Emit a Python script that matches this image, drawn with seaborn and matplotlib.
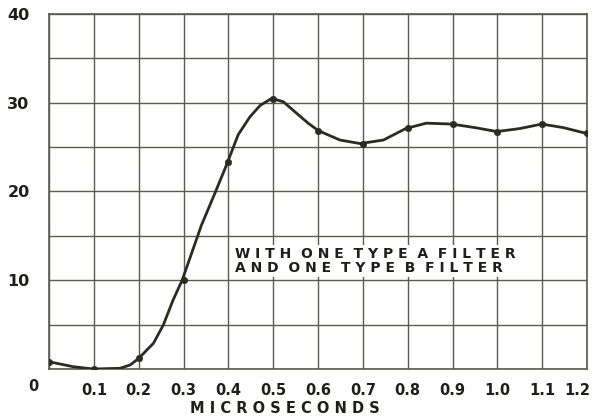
import matplotlib
matplotlib.use("Agg")
import matplotlib.pyplot as plt
import matplotlib.transforms as mtrans
import seaborn as sns
import pandas as pd

# curve trace (microseconds, response)
time_us = [0.0, 0.054, 0.099, 0.158, 0.181, 0.2, 0.233, 0.255, 0.277, 0.297, 0.34, 0.37,
           0.396, 0.422, 0.448, 0.471, 0.497, 0.523, 0.548, 0.578, 0.601, 0.649, 0.694,
           0.746, 0.796, 0.842, 0.898, 0.95, 0.999, 1.051, 1.099, 1.147, 1.198]
response = [0.82, 0.26, 0.0, 0.08, 0.45, 1.2, 2.9, 4.96, 7.8, 10.0, 16.2, 19.8,
            23.0, 26.4, 28.4, 29.7, 30.5, 30.1, 29.0, 27.7, 26.85, 25.8, 25.4,
            25.8, 27.1, 27.7, 27.6, 27.2, 26.75, 27.1, 27.6, 27.2, 26.55]
# plotted dots
dot_t = [0.0, 0.1, 0.2, 0.3, 0.4, 0.5, 0.6, 0.7, 0.8, 0.9, 1.0, 1.1, 1.2]
dot_v = [0.82, 0.0, 1.2, 10.0, 23.3, 30.4, 26.85, 25.4, 27.1, 27.6, 26.75, 27.6, 26.55]

x_labels = ["0.1", "0.2", "0.3", "0.4", "0.5", "0.6", "0.7", "0.8", "0.9", "1.0", "1.1", "1.2"]
y_labels = ["10", "20", "30", "40"]
annotation = ["WITH ONE TYPE A FILTER", "AND ONE TYPE B FILTER"]
x_title = "MICROSECONDS"


def spaced(s):
    return "  ".join(" ".join(w) for w in s.split(" "))


sns.set_style("white")
plt.rcParams['font.family'] = ['DejaVu Sans']

ink = "#2b2b24"
gridc = "#5a5a50"
txtc = "#1e1e1a"

fig = plt.figure(figsize=(5.94, 4.19), dpi=100)
ax = fig.add_axes([49/594, 1-369/419, (587-49)/594, (369-14)/419])

df = pd.DataFrame({"t": time_us, "v": response})
dots = pd.DataFrame({"t": dot_t, "v": dot_v})
sns.lineplot(data=df, x="t", y="v", ax=ax, color=ink, linewidth=2.0, zorder=3,
             solid_joinstyle="round", solid_capstyle="round")
sns.scatterplot(data=dots, x="t", y="v", ax=ax, color=ink, s=22, edgecolor=ink, zorder=4)

ax.set_xlim(0, 1.2)
ax.set_ylim(0, 40)
ax.set_xticks([i/10 for i in range(0, 13)])
ax.set_yticks([i*5 for i in range(0, 9)])
ax.grid(True, color=gridc, linewidth=1.0)
ax.set_xticklabels([""] + x_labels)
ylab_full = ["", ""] + [y_labels[0], ""] + [y_labels[1], ""] + [y_labels[2], ""] + [y_labels[3]]
ax.set_yticklabels(ylab_full)
ax.tick_params(axis="both", length=0, labelsize=10.5, colors=txtc)
ax.tick_params(axis="x", pad=10)
ax.tick_params(axis="y", pad=14)
xl = ax.get_xticklabels()
for lab in xl + ax.get_yticklabels():
    lab.set_fontweight("bold")
for lab in ax.get_yticklabels():
    lab.set_fontsize(11.5)
# last x label shifted so it stays inside the figure
last = xl[-1]
last.set_horizontalalignment("right")
last.set_transform(last.get_transform() + mtrans.ScaledTranslation(3/100, 0, fig.dpi_scale_trans))

for s in ax.spines.values():
    s.set_visible(True)
    s.set_color(gridc)
    s.set_linewidth(1.2)

ax.set_xlabel("")
ax.set_ylabel("")
fig.text(285/594, 1-408/419, spaced(x_title), fontsize=10.5, fontweight="bold", color=txtc,
         ha="center", va="center")
fig.text(33/594, 1-386/419, "0", fontsize=10.5, fontweight="bold", color=txtc, ha="center", va="center")

ax.text(0.415, 12.2, spaced(annotation[0]) + "\n" + spaced(annotation[1]), fontsize=10,
        fontweight="bold", color=txtc, ha="left", va="center", linespacing=1.0,
        bbox=dict(facecolor="white", edgecolor="none", pad=1.5), zorder=5)

fig.savefig("out.png", dpi=100, facecolor="white")
